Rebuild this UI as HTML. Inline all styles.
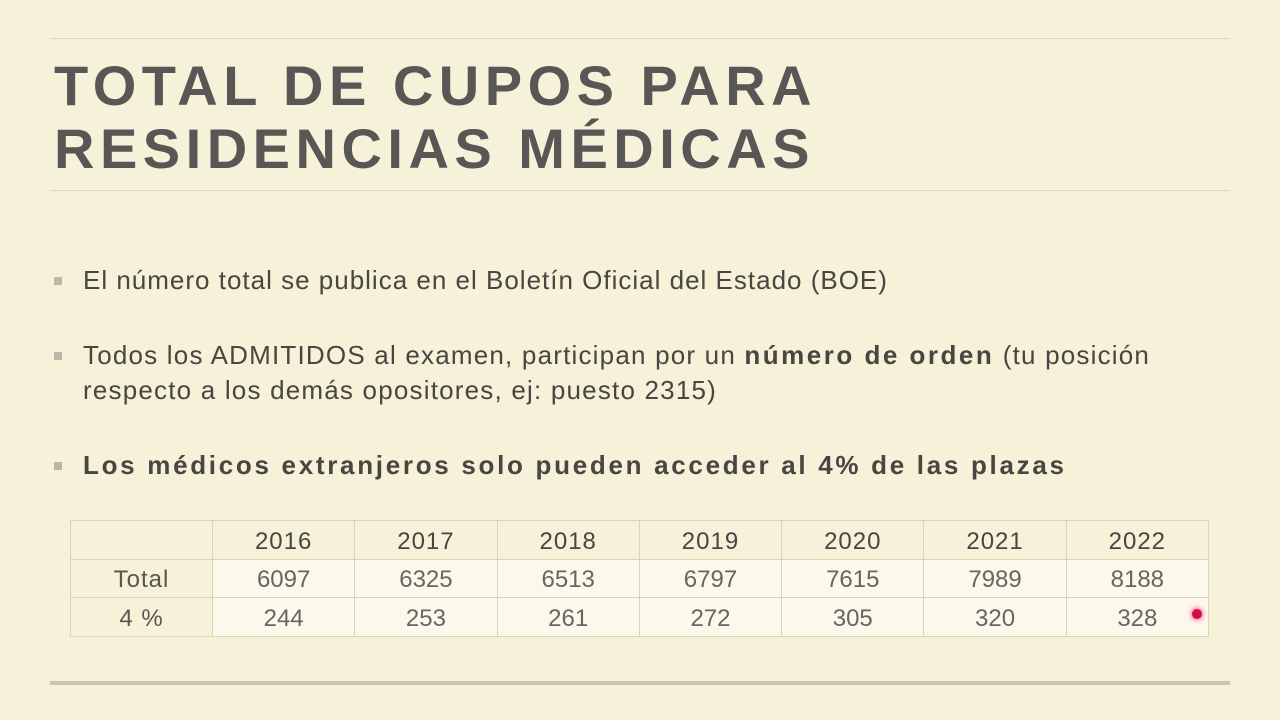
<!DOCTYPE html>
<html><head><meta charset="utf-8"><style>
body{margin:0;width:1280px;height:720px;background:#f6f1d9;font-family:"Liberation Sans",sans-serif;position:relative;overflow:hidden;color:#4a4540}
.l{position:absolute;left:50px;width:1180px;height:1px;background:#ddd8c4}
h1{position:absolute;left:54px;top:54px;margin:0;font-size:56px;line-height:63px;font-weight:bold;color:#595755;letter-spacing:5.5px;white-space:nowrap}
.b{position:absolute;left:83px;font-size:26px;line-height:35px;color:#4a4540;letter-spacing:1px;white-space:nowrap}
.b b{letter-spacing:2.5px}
.b:before{content:"";position:absolute;left:-29px;top:14px;width:8px;height:8px;background:#bbb6aa}
table{position:absolute;left:70px;top:520px;width:1139px;border-collapse:collapse;font-size:24px;color:#5a5550}
td{border:1px solid #ddd3b0;height:37px;text-align:center;padding:3px 0 0 0;box-sizing:border-box;letter-spacing:1px}
td.d{background:#fbf8ec;color:#6a655f;font-weight:normal;letter-spacing:0}
tr:first-child td{font-weight:normal;color:#4a4540}
</style></head><body>
<div class="l" style="top:38px"></div>
<h1>TOTAL DE CUPOS PARA<br>RESIDENCIAS MÉDICAS</h1>
<div class="l" style="top:190px"></div>
<div class="b" style="top:263px">El número total se publica en el Boletín Oficial del Estado (BOE)</div>
<div class="b" style="top:338px;letter-spacing:1.2px">Todos los ADMITIDOS al examen, participan por un <b>número de orden</b> (tu posición<br>respecto a los demás opositores, ej: puesto 2315)</div>
<div class="b" style="top:448px;font-weight:bold;letter-spacing:2.7px">Los médicos extranjeros solo pueden acceder al 4% de las plazas</div>
<table>
<tr><td style="width:142px;height:39px"></td><td>2016</td><td>2017</td><td>2018</td><td>2019</td><td>2020</td><td>2021</td><td>2022</td></tr>
<tr><td style="height:38px">Total</td><td class="d">6097</td><td class="d">6325</td><td class="d">6513</td><td class="d">6797</td><td class="d">7615</td><td class="d">7989</td><td class="d">8188</td></tr>
<tr><td style="height:39px">4 %</td><td class="d">244</td><td class="d">253</td><td class="d">261</td><td class="d">272</td><td class="d">305</td><td class="d">320</td><td class="d">328</td></tr>
</table>
<div style="position:absolute;left:1192px;top:609px;width:10px;height:10px;border-radius:50%;background:#d0103a;box-shadow:0 0 6px #f08"></div>
<div class="l" style="top:681px;height:4px;background:#c9c5b5"></div>
</body></html>
